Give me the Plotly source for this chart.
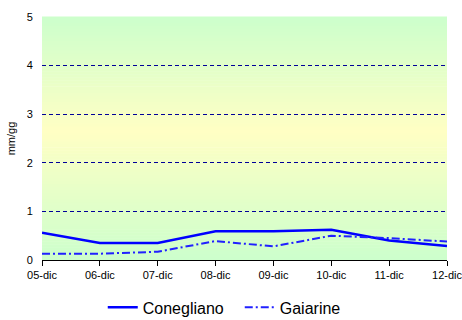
import plotly.graph_objects as go

# ==============================
# DATA
# ==============================

days = ["05-dic", "06-dic", "07-dic", "08-dic", "09-dic", "10-dic", "11-dic", "12-dic"]
conegliano = [0.56, 0.35, 0.35, 0.59, 0.59, 0.62, 0.40, 0.29]
gaiarine = [0.13, 0.13, 0.17, 0.39, 0.28, 0.50, 0.45, 0.38]

# ==============================
# BACKGROUND GRADIENT (green - yellow - green)
# ==============================

def mix(c1, c2, t):
    return "rgb(%d,%d,%d)" % tuple(round(a + (b - a) * t) for a, b in zip(c1, c2))

green = (204, 255, 204)
yellow = (255, 255, 196)
peak = 0.53  # fraction of height (from bottom) where yellow is strongest

shapes = []
n = 80
for i in range(n):
    f0 = i / n
    f1 = (i + 1) / n
    fm = (f0 + f1) / 2
    if fm < peak:
        t = fm / peak
    else:
        t = (1 - fm) / (1 - peak)
    shapes.append(dict(
        type="rect", xref="paper", yref="paper",
        x0=0, x1=1, y0=f0, y1=f1 + 0.002,
        fillcolor=mix(green, yellow, t),
        line=dict(width=0), layer="below"
    ))

# ==============================
# BUILD GRAPH
# ==============================

fig = go.Figure()

fig.add_trace(go.Scatter(
    x=days, y=conegliano,
    mode="lines", name="Conegliano",
    line=dict(color="#0000FF", width=2.5)
))

fig.add_trace(go.Scatter(
    x=days, y=gaiarine,
    mode="lines", name="Gaiarine",
    line=dict(color="#2020FF", width=2, dash="8px,3px,2px,3px")
))

# ==============================
# STYLE
# ==============================

fig.update_layout(
    width=462, height=320,
    margin=dict(l=42, r=15, t=17, b=60, autoexpand=False),
    paper_bgcolor="white",
    plot_bgcolor="rgba(0,0,0,0)",
    font=dict(family="Arial, Liberation Sans, sans-serif", size=11, color="black"),
    shapes=shapes,
    showlegend=True,
    legend=dict(
        orientation="h", x=0.15, xanchor="left", y=-0.125, yanchor="top",
        font=dict(size=16), bgcolor="rgba(0,0,0,0)",
        itemwidth=30, entrywidth=92, tracegroupgap=0
    ),
    xaxis=dict(
        type="category", range=[0, 7],
        showgrid=False, zeroline=False, automargin=False,
        showline=True, linecolor="black", linewidth=1,
        ticks="outside", ticklen=5, tickcolor="black",
        tickfont=dict(size=11)
    ),
    yaxis=dict(
        range=[0, 5], dtick=1, automargin=False,
        showgrid=True, gridcolor="#000099", griddash="4px,3px", gridwidth=1,
        zeroline=False, showline=False,
        ticks="outside", ticklen=6, tickcolor="rgba(0,0,0,0)",
        title=dict(text="mm/gg", font=dict(size=11), standoff=8),
        tickfont=dict(size=11)
    )
)

fig.write_html(
    "out.html",
    config={"displayModeBar": False},
    post_script="document.body.style.margin='0';document.body.style.overflow='hidden';"
)
